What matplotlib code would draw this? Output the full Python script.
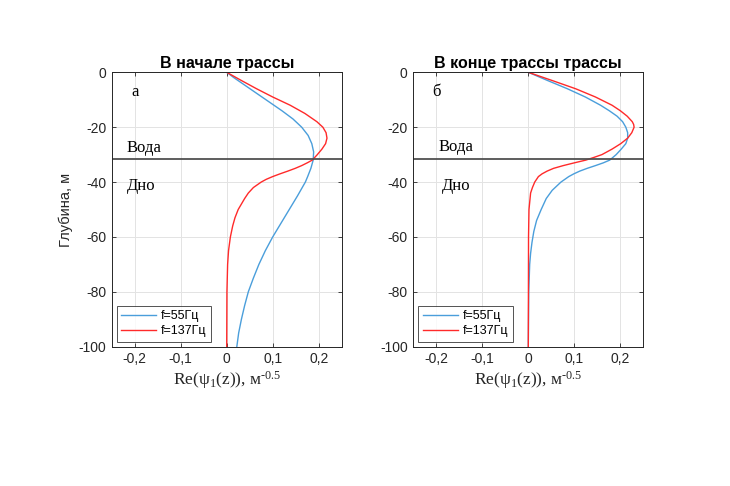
import matplotlib
matplotlib.use("Agg")
import matplotlib.pyplot as plt
from matplotlib.ticker import FixedLocator, FixedFormatter

# ---------------- data ----------------
# Panel a: beginning of the track
depth_a55 = [0, -2, -5, -8, -11, -14, -17, -20, -23, -26, -29, -32, -35, -38, -40,
             -45, -50, -55, -60, -65, -70, -75, -80, -85, -90, -95, -100]
psi_a55 = [0, 0.016, 0.042, 0.068, 0.094, 0.120, 0.144, 0.163, 0.177, 0.185, 0.189,
           0.188, 0.183, 0.176, 0.171, 0.154, 0.136, 0.118, 0.100, 0.084, 0.070,
           0.058, 0.047, 0.039, 0.032, 0.026, 0.022]
depth_a137 = [0, -3, -6, -9, -12, -15, -18, -20, -22, -24, -26, -28, -30, -32, -33,
              -34, -35, -36, -37, -38, -39, -40, -42, -44, -46, -48, -50, -53, -56,
              -60, -65, -70, -80, -100]
psi_a137 = [0, 0.032, 0.065, 0.100, 0.138, 0.170, 0.196, 0.209, 0.216, 0.218, 0.215,
            0.207, 0.197, 0.186, 0.175, 0.163, 0.149, 0.133, 0.116, 0.100, 0.086,
            0.075, 0.058, 0.047, 0.039, 0.032, 0.025, 0.018, 0.013, 0.008, 0.004,
            0.002, 0.0005, 0.0]

# Panel b: end of the track
depth_b55 = [0, -3, -6, -9, -12, -14, -16, -18, -20, -22, -24, -26, -28, -30, -32,
             -33, -34, -35, -36, -37, -38, -40, -43, -46, -50, -54, -58, -62, -66,
             -70, -80, -100]
psi_b55 = [0, 0.042, 0.085, 0.124, 0.157, 0.176, 0.193, 0.205, 0.212, 0.216, 0.216,
           0.212, 0.202, 0.191, 0.177, 0.163, 0.146, 0.128, 0.112, 0.099, 0.088,
           0.071, 0.052, 0.039, 0.028, 0.018, 0.012, 0.008, 0.005, 0.003, 0.001, 0.0]
depth_b137 = [0, -3, -6, -9, -12, -14, -16, -18, -19, -20, -22, -24, -26, -28, -30,
              -31, -32, -33, -34, -35, -36, -37, -38, -40, -42, -44, -50, -60, -100]
psi_b137 = [0, 0.052, 0.103, 0.146, 0.182, 0.200, 0.215, 0.226, 0.229, 0.230, 0.225,
            0.216, 0.201, 0.182, 0.160, 0.143, 0.125, 0.100, 0.076, 0.055, 0.041,
            0.030, 0.022, 0.014, 0.009, 0.005, 0.0015, 0.0005, 0.0]

titles = ["В начале трассы", "В конце трассы трассы"]
panel_letters = ["а", "б"]
legend_labels = ["f=55Гц", "f=137Гц"]
bottom_depth = -31.7
xticks = [-0.2, -0.1, 0, 0.1, 0.2]
xtick_labels = ["-0,2", "-0,1", "0", "0,1", "0,2"]
yticks = [0, -20, -40, -60, -80, -100]
ytick_labels = ["0", "-20", "-40", "-60", "-80", "-100"]

# ---------------- styling ----------------
plt.rcParams['font.family'] = ['Liberation Sans', 'DejaVu Sans']
plt.rcParams['mathtext.fontset'] = 'custom'
plt.rcParams['mathtext.rm'] = 'Liberation Serif'
plt.rcParams['mathtext.it'] = 'Liberation Serif'
plt.rcParams['mathtext.default'] = 'rm'

blue = '#4A9EDB'
red = '#FF2A2A'
axcol = '#262626'
serif = ['Liberation Serif', 'DejaVu Serif']

fig = plt.figure(figsize=(7.3, 4.86), dpi=100)
W, H = 730, 486
ax_pos = [(111.7, 72.3, 341.7, 346.7), (413.3, 72.3, 643.3, 346.7)]

panels = [
    (depth_a55, psi_a55, depth_a137, psi_a137),
    (depth_b55, psi_b55, depth_b137, psi_b137),
]
text_pos = [
    {"letter": (-0.207, -7.0), "voda": (-0.218, -27.6), "dno": (-0.216, -41.6)},
    {"letter": (-0.209, -7.0), "voda": (-0.196, -27.2), "dno": (-0.187, -41.6)},
]

for i, (d55, p55, d137, p137) in enumerate(panels):
    x0, y0, x1, y1 = ax_pos[i]
    ax = fig.add_axes([x0 / W, 1 - y1 / H, (x1 - x0) / W, (y1 - y0) / H])
    ax.plot(p55, d55, color=blue, lw=1.0, label=legend_labels[0])
    ax.plot(p137, d137, color=red, lw=1.0, label=legend_labels[1])
    ax.axhline(bottom_depth, color='#505050', lw=1.3)
    ax.set_xlim(-0.25, 0.25)
    ax.set_ylim(-100, 0)
    ax.xaxis.set_major_locator(FixedLocator(xticks))
    ax.xaxis.set_major_formatter(FixedFormatter(xtick_labels))
    ax.yaxis.set_major_locator(FixedLocator(yticks))
    ax.yaxis.set_major_formatter(FixedFormatter(ytick_labels))
    ax.grid(True, color='#e3e3e3', lw=0.7)
    ax.set_axisbelow(True)
    ax.tick_params(direction='in', top=True, right=True, length=3, width=0.6,
                   colors=axcol, labelsize=10, pad=4)
    for s in ax.spines.values():
        s.set_color(axcol)
        s.set_linewidth(0.7)
    ax.set_title(titles[i], fontsize=11.5, fontweight='bold', pad=3, color='black')
    ax.set_xlabel('Re($\\psi_1$(z)), м$^{\u2010 0.5}$', fontsize=12.5,
                  family=serif, labelpad=2, color=axcol)
    if i == 0:
        ax.set_ylabel('Глубина, м', fontsize=10.5, labelpad=4, color=axcol)
    tp = text_pos[i]
    ax.text(*tp["letter"], panel_letters[i], fontsize=12, family=serif,
            ha='left', va='center')
    ax.text(*tp["voda"], "Вода", fontsize=12, family=serif, ha='left', va='center')
    ax.text(*tp["dno"], "Дно", fontsize=12, family=serif, ha='left', va='center')
    leg = ax.legend(loc='lower left', fontsize=9, frameon=True, fancybox=False,
                    edgecolor=axcol, handlelength=2.8, handletextpad=0.4,
                    borderpad=0.35, labelspacing=0.25, borderaxespad=0.4)
    leg.get_frame().set_linewidth(0.7)

fig.savefig('out.png', dpi=100)
